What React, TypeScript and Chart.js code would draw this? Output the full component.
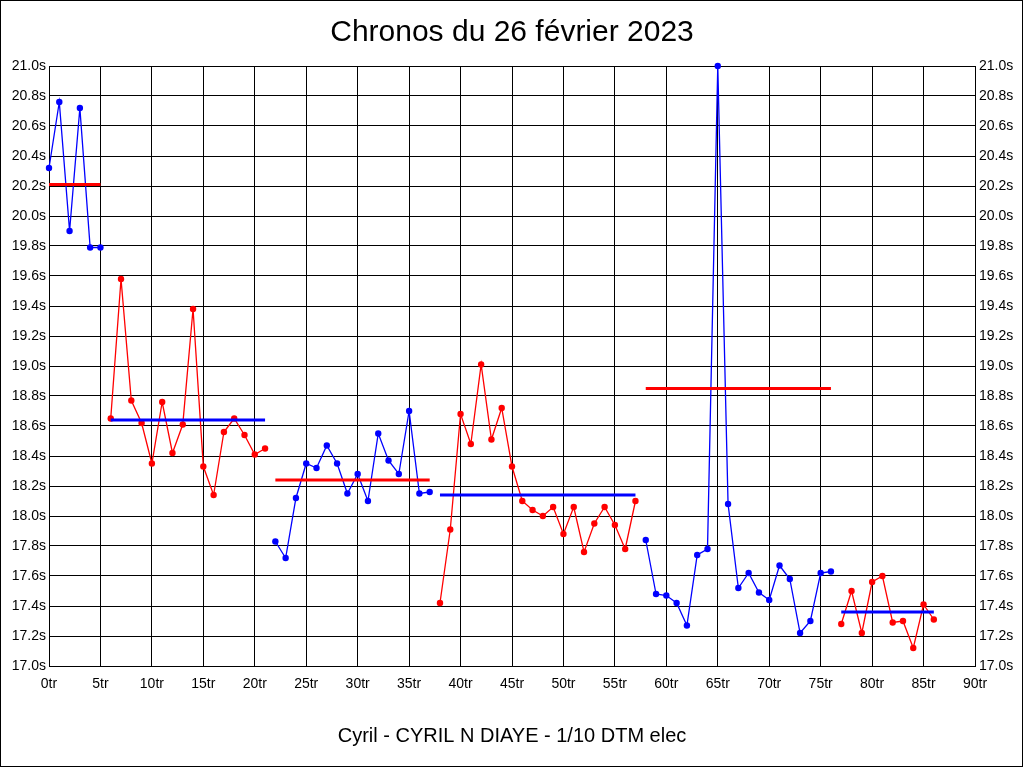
import React, { useEffect, useRef } from "react";
import { Chart, registerables } from "chart.js";

Chart.register(...registerables);

const TITLE = "Chronos du 26 février 2023";
const X_TITLE = "Cyril - CYRIL N DIAYE - 1/10 DTM elec";

// Each stint: starting lap and lap times (s)
const segStarts = [0, 6, 22, 38, 58, 77];
const seg1 = [20.32, 20.76, 19.90, 20.72, 19.79, 19.79];
const seg2 = [18.65, 19.58, 18.77, 18.62, 18.35, 18.76, 18.42, 18.61, 19.38, 18.33, 18.14, 18.56, 18.65, 18.54, 18.41, 18.45];
const seg3 = [17.83, 17.72, 18.12, 18.35, 18.32, 18.47, 18.35, 18.15, 18.28, 18.10, 18.55, 18.37, 18.28, 18.70, 18.15, 18.16];
const seg4 = [17.42, 17.91, 18.68, 18.48, 19.01, 18.51, 18.72, 18.33, 18.10, 18.04, 18.00, 18.06, 17.88, 18.06, 17.76, 17.95, 18.06, 17.94, 17.78, 18.10];
const seg5 = [17.84, 17.48, 17.47, 17.42, 17.27, 17.74, 17.78, 21.0, 18.08, 17.52, 17.62, 17.49, 17.44, 17.67, 17.58, 17.22, 17.30, 17.62, 17.63];
const seg6 = [17.28, 17.50, 17.22, 17.56, 17.60, 17.29, 17.30, 17.12, 17.41, 17.31];
const segAverages = [20.21, 18.64, 18.24, 18.14, 18.85, 17.36];
const segColors = ["#0000ff", "#ff0000", "#0000ff", "#ff0000", "#0000ff", "#ff0000"];
const avgColors = ["#ff0000", "#0000ff", "#ff0000", "#0000ff", "#ff0000", "#0000ff"];

const X_MIN = 0;
const X_MAX = 90;
const Y_MIN = 17.0;
const Y_MAX = 21.0;

const FONT = "'Liberation Sans', Arial, sans-serif";

export default function App() {
  const ref = useRef<HTMLCanvasElement | null>(null);

  useEffect(() => {
    if (!ref.current) return;
    const segs = [seg1, seg2, seg3, seg4, seg5, seg6];
    const datasets: any[] = [];
    segs.forEach((s, i) => {
      const start = segStarts[i];
      datasets.push({
        data: s.map((v, k) => ({ x: start + k, y: v })),
        borderColor: segColors[i],
        backgroundColor: segColors[i],
        borderWidth: 1.3,
        pointRadius: 3.2,
        pointBorderWidth: 0,
        pointBackgroundColor: segColors[i],
        tension: 0,
        clip: false,
        order: 2,
      });
    });
    segs.forEach((s, i) => {
      const start = segStarts[i];
      datasets.push({
        data: [
          { x: start, y: segAverages[i] },
          { x: start + s.length - 1, y: segAverages[i] },
        ],
        borderColor: avgColors[i],
        backgroundColor: avgColors[i],
        borderWidth: 3,
        pointRadius: 0,
        tension: 0,
        order: 1,
      });
    });

    const borderPlugin = {
      id: "pageBorder",
      afterDraw(chart: any) {
        const ctx = chart.ctx;
        ctx.save();
        ctx.strokeStyle = "#000";
        ctx.lineWidth = 1;
        ctx.strokeRect(0.5, 0.5, 1022, 766);
        ctx.restore();
      },
    };

    const yTicks = {
      stepSize: 0.2,
      color: "#000",
      font: { family: FONT, size: 14 },
      callback: (v: any) => Number(v).toFixed(1) + "s",
    };

    const chart = new Chart(ref.current, {
      type: "line",
      data: { datasets },
      plugins: [borderPlugin],
      options: {
        animation: false,
        responsive: false,
        devicePixelRatio: 1,
        layout: { padding: 0 },
        plugins: {
          legend: { display: false },
          tooltip: { enabled: false },
          title: {
            display: true,
            text: TITLE,
            color: "#000",
            font: { family: FONT, size: 30, weight: "normal", lineHeight: 1.2 },
            padding: { top: 15, bottom: 15 },
          },
        },
        scales: {
          x: {
            type: "linear",
            min: X_MIN,
            max: X_MAX,
            grid: { color: "#000", lineWidth: 1, drawTicks: false },
            border: { color: "#000", width: 1 },
            ticks: {
              stepSize: 5,
              autoSkip: false,
              maxRotation: 0,
              padding: 10,
              color: "#000",
              font: { family: FONT, size: 14 },
              callback: (v: any) => v + "tr",
            },
            title: {
              display: true,
              text: X_TITLE,
              color: "#000",
              font: { family: FONT, size: 20, lineHeight: 1.2 },
              padding: { top: 0, bottom: 20 },
            },
            afterFit: (scale: any) => {
              scale.height = 102;
            },
          },
          y: {
            type: "linear",
            position: "left",
            min: Y_MIN,
            max: Y_MAX,
            grid: { color: "#000", lineWidth: 1, drawTicks: false },
            border: { color: "#000", width: 1 },
            ticks: { ...yTicks, padding: 3 },
            afterFit: (scale: any) => {
              scale.width = 49;
            },
          },
          y2: {
            type: "linear",
            position: "right",
            min: Y_MIN,
            max: Y_MAX,
            grid: { drawOnChartArea: false, drawTicks: false },
            border: { color: "#000", width: 1 },
            ticks: { ...yTicks, padding: 4 },
            afterFit: (scale: any) => {
              scale.width = 49;
            },
          },
        },
      } as any,
    });
    return () => chart.destroy();
  }, []);

  return (
    <div style={{ position: "absolute", left: 0, top: 0, width: 1024, height: 768, background: "#fff" }}>
      <canvas ref={ref} width={1024} height={768} style={{ width: 1024, height: 768, display: "block" }} />
    </div>
  );
}
